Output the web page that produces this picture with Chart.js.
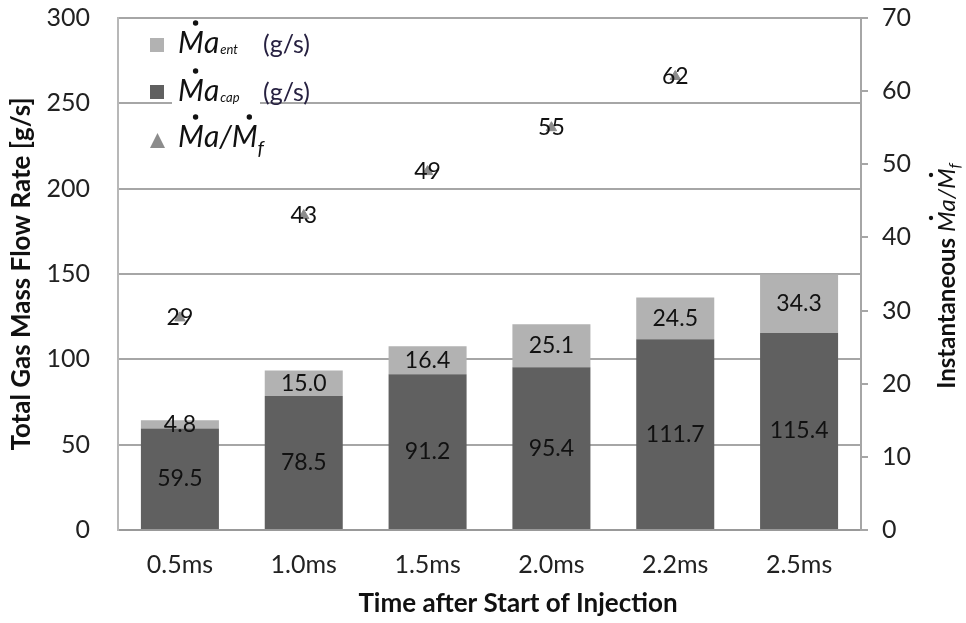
<!DOCTYPE html>
<html>
<head>
<meta charset="utf-8">
<script src="https://cdn.jsdelivr.net/npm/chart.js@4.4.1/dist/chart.umd.min.js"></script>
<style>
  html, body { margin: 0; padding: 0; background: #fff; }
  #wrap { width: 966px; height: 623px; }
</style>
</head>
<body>
<div id="wrap"><canvas id="flowChart" width="966" height="623"></canvas></div>
<script>
// chart data
const categories = ['0.5ms', '1.0ms', '1.5ms', '2.0ms', '2.2ms', '2.5ms'];
const capFlow = [59.5, 78.5, 91.2, 95.4, 111.7, 115.4];   // Ma cap (g/s)
const entFlow = [4.8, 15.0, 16.4, 25.1, 24.5, 34.3];      // Ma ent (g/s)
const ratio = [29, 43, 49, 55, 62, null];                 // Ma/Mf
const leftTicks = [0, 50, 100, 150, 200, 250, 300];
const rightTicks = [0, 10, 20, 30, 40, 50, 60, 70];

const FONT = 'Lato, "Open Sans", sans-serif';
const darkGray = '#606060';
const lightGray = '#b2b2b2';
const markerGray = '#8c8c8c';

function dot(ctx, x, y, r) {
    ctx.beginPath();
    ctx.arc(x, y, r, 0, Math.PI * 2);
    ctx.fill();
}

// writes an italic M with a dot over it, returns its width
function dotM(ctx, x, y, size, dotY) {
    ctx.font = 'italic ' + size + 'px ' + FONT;
    ctx.fillText('M', x, y);
    const w = ctx.measureText('M').width;
    dot(ctx, x + w * 0.68, y - dotY, size * 0.09);
    return w;
}

// value labels on bars and markers
const labelPlugin = {
    id: 'valueLabels',
    afterDatasetsDraw(chart) {
        const ctx = chart.ctx;
        ctx.save();
        ctx.font = '23px ' + FONT;
        ctx.fillStyle = '#111';
        ctx.textAlign = 'center';
        ctx.textBaseline = 'middle';
        chart.data.datasets.forEach((ds, i) => {
            const meta = chart.getDatasetMeta(i);
            meta.data.forEach((el, j) => {
                const v = ds.data[j];
                if (v === null || v === undefined) return;
                if (ds.type === 'bar') {
                    ctx.fillText(v.toFixed(1), el.x, (el.y + el.base) / 2);
                } else {
                    ctx.fillText(String(v), el.x, el.y);
                }
            });
        });
        ctx.restore();
    }
};

// legend with dotted M, the x title and the right axis title
const mathPlugin = {
    id: 'mathText',
    afterDraw(chart) {
        const ctx = chart.ctx;
        ctx.save();
        ctx.textBaseline = 'alphabetic';
        ctx.textAlign = 'left';

        // entry 1 - entrainment
        ctx.fillStyle = lightGray;
        ctx.fillRect(150, 38, 14, 14);
        ctx.fillStyle = '#111';
        let x = 178;
        x += dotM(ctx, x, 53, 30, 30);
        ctx.fillText('a', x, 53);
        x += ctx.measureText('a').width;
        ctx.font = 'italic 13px ' + FONT;
        ctx.fillText('ent', x + 1, 54);
        ctx.font = '25px ' + FONT;
        ctx.fillStyle = '#262040';
        ctx.fillText('(g/s)', 263, 53);

        // entry 2 - captured
        ctx.fillStyle = '#fff';
        ctx.fillRect(172, 64, 88, 44);
        ctx.fillStyle = darkGray;
        ctx.fillRect(150, 85, 14, 14);
        ctx.fillStyle = '#111';
        x = 178;
        x += dotM(ctx, x, 101, 30, 30);
        ctx.fillText('a', x, 101);
        x += ctx.measureText('a').width;
        ctx.font = 'italic 13px ' + FONT;
        ctx.fillText('cap', x + 1, 102);
        ctx.font = '25px ' + FONT;
        ctx.fillStyle = '#262040';
        ctx.fillText('(g/s)', 263, 101);

        // entry 3 - ratio
        ctx.fillStyle = markerGray;
        ctx.beginPath();
        ctx.moveTo(157.5, 133);
        ctx.lineTo(165, 148);
        ctx.lineTo(150, 148);
        ctx.closePath();
        ctx.fill();
        ctx.fillStyle = '#111';
        x = 178;
        x += dotM(ctx, x, 147, 30, 30);
        ctx.fillText('a/', x, 147);
        x += ctx.measureText('a/').width;
        x += dotM(ctx, x, 147, 30, 30);
        ctx.font = 'italic 20px ' + FONT;
        ctx.fillText('f', x, 155);

        // x axis title
        ctx.font = 'bold 26px ' + FONT;
        ctx.textAlign = 'center';
        ctx.fillText('Time after Start of Injection', 518, 612);
        ctx.textAlign = 'left';

        // right axis title, rotated
        ctx.translate(946, 276);
        ctx.rotate(-Math.PI / 2);
        const bold = 'bold 24px ' + FONT;
        ctx.font = bold;
        const w1 = ctx.measureText('Instantaneous ').width;
        ctx.font = 'italic 24px ' + FONT;
        const wM = ctx.measureText('M').width;
        const wa = ctx.measureText('a/').width;
        ctx.font = 'italic 16px ' + FONT;
        const wf = ctx.measureText('f').width;
        const total = w1 + wM * 2 + wa + wf;
        x = -total / 2;
        ctx.font = bold;
        ctx.fillText('Instantaneous ', x, 9);
        x += w1;
        x += dotM(ctx, x, 9, 24, 24);
        ctx.fillText('a/', x, 9);
        x += wa;
        x += dotM(ctx, x, 9, 24, 24);
        ctx.font = 'italic 16px ' + FONT;
        ctx.fillText('f', x, 14);
        ctx.restore();
    }
};

new Chart(document.getElementById('flowChart'), {
    data: {
        labels: categories,
        datasets: [{
            type: 'line',
            label: 'Ma/Mf',
            data: ratio,
            yAxisID: 'y2',
            showLine: false,
            pointStyle: 'triangle',
            pointRadius: 6,
            pointBackgroundColor: markerGray,
            pointBorderColor: markerGray,
            order: 0
        }, {
            type: 'bar',
            label: 'Ma cap (g/s)',
            data: capFlow,
            backgroundColor: darkGray,
            categoryPercentage: 1,
            barPercentage: 0.63,
            stack: 'flow',
            order: 1
        }, {
            type: 'bar',
            label: 'Ma ent (g/s)',
            data: entFlow,
            backgroundColor: lightGray,
            categoryPercentage: 1,
            barPercentage: 0.63,
            stack: 'flow',
            order: 1
        }]
    },
    options: {
        responsive: false,
        animation: false,
        layout: { padding: { top: 18, left: 0, right: 0, bottom: 0 } },
        plugins: {
            legend: { display: false },
            tooltip: { enabled: false }
        },
        scales: {
            x: {
                stacked: true,
                offset: true,
                afterFit: (s) => { s.height = 93; },
                grid: { display: false, drawTicks: false },
                border: { color: '#999', width: 2 },
                ticks: { color: '#222', font: { family: FONT, size: 25 }, padding: 20 }
            },
            y: {
                stacked: true,
                position: 'left',
                min: 0,
                max: 300,
                afterFit: (s) => { s.width = 118; s.paddingTop = 0; s.paddingBottom = 0; },
                afterBuildTicks: (s) => { s.ticks = leftTicks.map(v => ({ value: v })); },
                grid: { color: '#a6a6a6', lineWidth: 2, drawTicks: false },
                border: { color: '#b8b8b8', width: 2 },
                ticks: { color: '#222', font: { family: FONT, size: 25 }, padding: 28 },
                title: {
                    display: true,
                    text: 'Total Gas Mass Flow Rate [g/s]',
                    color: '#111',
                    font: { family: FONT, size: 26, weight: 'bold' },
                    padding: { top: 6, bottom: 0 }
                }
            },
            y2: {
                position: 'right',
                min: 0,
                max: 70,
                afterFit: (s) => { s.width = 105; s.paddingTop = 0; s.paddingBottom = 0; },
                afterBuildTicks: (s) => { s.ticks = rightTicks.map(v => ({ value: v })); },
                grid: { drawOnChartArea: false, color: '#a6a6a6', lineWidth: 2, tickLength: 7 },
                border: { color: '#a6a6a6', width: 2 },
                ticks: { color: '#222', font: { family: FONT, size: 25 }, padding: 14 }
            }
        }
    },
    plugins: [labelPlugin, mathPlugin]
});
</script>
</body>
</html>
